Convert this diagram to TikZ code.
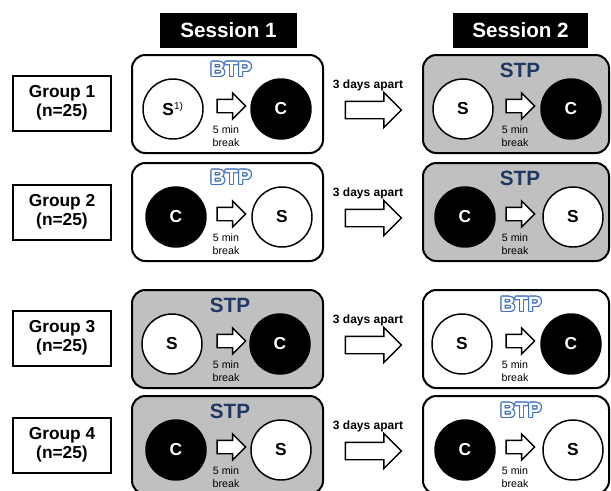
\documentclass[tikz,border=0pt]{standalone}
\usepackage{fontspec}
\setmainfont{Liberation Sans}
\usepackage{contour}
\usetikzlibrary{shapes.arrows}

\definecolor{panelgray}{RGB}{192,192,192}
\definecolor{btpblue}{RGB}{68,114,196}
\definecolor{stpnavy}{RGB}{31,56,100}
\contourlength{0.75pt}

\tikzset{every picture/.style={line width=0.75pt}}
\tikzset{
	grouplabel/.style={draw, line width=1.5pt, minimum width=73.5pt, minimum height=41.25pt, inner sep=0pt, align=center, font=\fontsize{13}{14}\selectfont\bfseries},
	sessionlabel/.style={fill=black, text=white, minimum width=102.75pt, minimum height=26.25pt, font=\fontsize{15.5}{15.5}\selectfont\bfseries},
	btppanel/.style={draw, fill=white, rounded corners=10pt, line width=1.5pt, minimum height=73.5pt},
	stppanel/.style={btppanel, fill=panelgray},
	scircle/.style={circle, draw, fill=white, line width=1.1pt, minimum size=45pt, inner sep=0pt, font=\fontsize{13}{13}\selectfont\bfseries},
	ccircle/.style={scircle, fill=black, text=white},
	breakarrow/.style={single arrow, draw, fill=white, line width=1.1pt, inner xsep=0pt, inner ysep=4.5pt, minimum height=21.5pt, single arrow head extend=4.7pt, single arrow head indent=0pt},
	apartarrow/.style={breakarrow, inner ysep=6pt, minimum height=42pt, single arrow head extend=6.5pt},
	breaknote/.style={align=center, font=\fontsize{8}{9.5}\selectfont},
	apartnote/.style={font=\fontsize{9}{9}\selectfont\bfseries},
	btptitle/.style={font=\fontsize{15.5}{15.5}\selectfont\bfseries},
	stptitle/.style={btptitle, text=stpnavy}}

\begin{document}
\begin{tikzpicture}[x=0.75pt,y=0.75pt,yscale=-1,xscale=1]
	\useasboundingbox (0,0) rectangle (611,490);

	% Session headers
	\node[sessionlabel] (sess1) at (228.5,30.5) {Session 1};
	\node[sessionlabel, minimum width=101.25pt] (sess2) at (520.5,30.5) {Session 2};

	%Row 1 -- Group 1: BTP then STP
	\node[grouplabel] (g1) at (62,103) {Group 1\\(n=25)};
	\node[btppanel, minimum width=143.25pt] (p11) at (227.5,104) {};
	\node[btptitle] (t11) at (231,70) {\contour{btpblue}{\textcolor{white}{BTP}}};
	\node[scircle] (s11) at (173,109) {S\textsuperscript{\mdseries\fontsize{7.5}{7.5}\selectfont 1)}};
	\node[ccircle] (c11) at (281,109) {C};
	\node[breakarrow] (a11) at (228,106) {};
	\node[breaknote] (b11) at (226,136) {5 min\\break};
	\node[apartnote] (d1) at (368,85) {3 days apart};
	\node[apartarrow] (x1) at (369,110) {};
	\node[stppanel, minimum width=139.5pt] (p12) at (516,104) {};
	\node[stptitle] (t12) at (520,70) {STP};
	\node[scircle] (s12) at (463,109) {S};
	\node[ccircle] (c12) at (571,109) {C};
	\node[breakarrow] (a12) at (517,106) {};
	\node[breaknote] (b12) at (515,136) {5 min\\break};

	%Row 2 -- Group 2: BTP then STP
	\node[grouplabel] (g2) at (62,212) {Group 2\\(n=25)};
	\node[btppanel, minimum width=143.25pt] (p21) at (227.5,212) {};
	\node[btptitle] (t21) at (231,178) {\contour{btpblue}{\textcolor{white}{BTP}}};
	\node[ccircle] (c21) at (176,217) {C};
	\node[scircle] (s21) at (282,217) {S};
	\node[breakarrow] (a21) at (228,214) {};
	\node[breaknote] (b21) at (226,244) {5 min\\break};
	\node[apartnote] (d2) at (368,193) {3 days apart};
	\node[apartarrow] (x2) at (369,218) {};
	\node[stppanel, minimum width=139.5pt] (p22) at (516,212) {};
	\node[stptitle] (t22) at (520,178) {STP};
	\node[ccircle] (c22) at (465,217) {C};
	\node[scircle] (s22) at (573,217) {S};
	\node[breakarrow] (a22) at (517,214) {};
	\node[breaknote] (b22) at (515,244) {5 min\\break};

	%Row 3 -- Group 3: STP then BTP
	\node[grouplabel] (g3) at (62,338) {Group 3\\(n=25)};
	\node[stppanel, minimum width=143.25pt] (p31) at (227.5,339) {};
	\node[stptitle] (t31) at (230,305) {STP};
	\node[scircle] (s31) at (172,344) {S};
	\node[ccircle] (c31) at (280,344) {C};
	\node[breakarrow] (a31) at (228,341) {};
	\node[breaknote] (b31) at (226,371) {5 min\\break};
	\node[apartnote] (d3) at (368,320) {3 days apart};
	\node[apartarrow] (x3) at (369,345) {};
	\node[btppanel, minimum width=139.5pt] (p32) at (516,339) {};
	\node[btptitle] (t32) at (521,305) {\contour{btpblue}{\textcolor{white}{BTP}}};
	\node[scircle] (s32) at (462,344) {S};
	\node[ccircle] (c32) at (571,344) {C};
	\node[breakarrow] (a32) at (517,341) {};
	\node[breaknote] (b32) at (515,371) {5 min\\break};

	%Row 4 -- Group 4: STP then BTP
	\node[grouplabel] (g4) at (62,445) {Group 4\\(n=25)};
	\node[stppanel, minimum width=143.25pt] (p41) at (227.5,445) {};
	\node[stptitle] (t41) at (230,411) {STP};
	\node[ccircle] (c41) at (176,450) {C};
	\node[scircle] (s41) at (281,450) {S};
	\node[breakarrow] (a41) at (228,447) {};
	\node[breaknote] (b41) at (226,477) {5 min\\break};
	\node[apartnote] (d4) at (368,426) {3 days apart};
	\node[apartarrow] (x4) at (369,451) {};
	\node[btppanel, minimum width=139.5pt] (p42) at (516,445) {};
	\node[btptitle] (t42) at (521,411) {\contour{btpblue}{\textcolor{white}{BTP}}};
	\node[ccircle] (c42) at (465,450) {C};
	\node[scircle] (s42) at (573,450) {S};
	\node[breakarrow] (a42) at (517,447) {};
	\node[breaknote] (b42) at (515,477) {5 min\\break};

\end{tikzpicture}
\end{document}
